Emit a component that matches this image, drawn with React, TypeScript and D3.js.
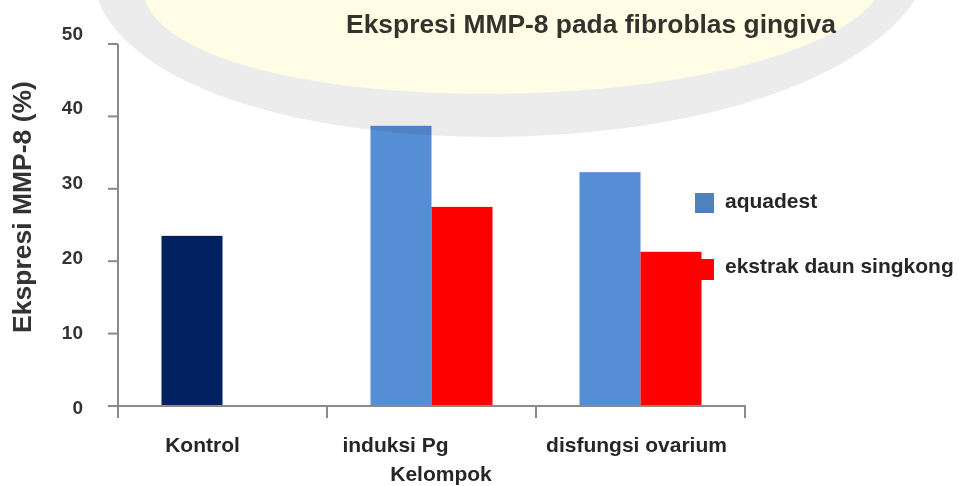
import React from "react";
import * as d3 from "d3";

// values
const categories = ["Kontrol", "induksi Pg", "disfungsi ovarium"];
const kontrolValues = [23.5, null, null];
const aquadestValues = [null, 38.7, 32.3];
const ekstrakValues = [null, 27.5, 21.3];
const yTicks = [0, 10, 20, 30, 40, 50];
const legendLabels = ["aquadest", "ekstrak daun singkong"];

const W = 959;
const H = 486;
const FONT = "'Liberation Sans', Arial, Helvetica, sans-serif";

// category labels in the picture sit a little left of the band centres
const labelShift = [-20, -36, -4];

const App: React.FC = () => {
  const x = d3.scaleBand<string>().domain(categories).range([118, 745]).padding(0);
  const slot = d3
    .scaleBand<string>()
    .domain(["a", "b"])
    .range([0, x.bandwidth()])
    .paddingInner(0)
    .paddingOuter(0.713);
  const y = d3.scaleLinear().domain([0, 50]).range([406, 44]);
  // tick labels are spread slightly wider than the ticks themselves
  const yLabel = d3.scaleLinear().domain([0, 50]).range([407, 33]);

  const bars: { cat: string; s: string; v: number; fill: string }[] = [];
  categories.forEach((c, i) => {
    if (kontrolValues[i] != null) bars.push({ cat: c, s: "a", v: kontrolValues[i] as number, fill: "#002060" });
    if (aquadestValues[i] != null) bars.push({ cat: c, s: "a", v: aquadestValues[i] as number, fill: "#558ed5" });
    if (ekstrakValues[i] != null) bars.push({ cat: c, s: "b", v: ekstrakValues[i] as number, fill: "#ff0000" });
  });

  const bounds = [...categories.map((c) => x(c) as number), 745];
  const axisColor = "#8a8a8a";

  return (
    <svg
      width={W}
      height={H}
      style={{ position: "absolute", left: 0, top: 0, background: "#fff" }}
      fontFamily={FONT}
    >
      <rect width={W} height={H} fill="#fff" />

      {/* bars */}
      {bars.map((b, i) => (
        <rect
          key={i}
          x={(x(b.cat) as number) + (slot(b.s) as number)}
          y={y(b.v)}
          width={slot.bandwidth()}
          height={y(0) - y(b.v)}
          fill={b.fill}
        />
      ))}

      {/* y axis */}
      <line x1={118} x2={118} y1={y(50)} y2={y(0)} stroke={axisColor} strokeWidth={2} />
      {yTicks.map((t) => (
        <g key={t}>
          <line x1={108} x2={118} y1={y(t)} y2={y(t)} stroke={axisColor} strokeWidth={2} />
          <text
            x={83}
            y={yLabel(t)}
            textAnchor="end"
            dominantBaseline="central"
            fontSize={19}
            fontWeight="bold"
            fill="#333"
          >
            {t}
          </text>
        </g>
      ))}

      {/* x axis */}
      <line x1={117} x2={746} y1={y(0)} y2={y(0)} stroke={axisColor} strokeWidth={2} />
      {bounds.map((bx, i) => (
        <line key={i} x1={bx} x2={bx} y1={y(0)} y2={y(0) + 12} stroke={axisColor} strokeWidth={2} />
      ))}
      {categories.map((c, i) => (
        <text
          key={c}
          x={(x(c) as number) + x.bandwidth() / 2 + labelShift[i]}
          y={452}
          textAnchor="middle"
          fontSize={21}
          fontWeight="bold"
          fill="#262626"
        >
          {c}
        </text>
      ))}
      <text x={441} y={481} textAnchor="middle" fontSize={21} fontWeight="bold" fill="#262626">
        Kelompok
      </text>

      {/* y title */}
      <text
        transform="translate(31,207) rotate(-90)"
        textAnchor="middle"
        fontSize={26.5}
        fontWeight="bold"
        fill="#333"
      >
        Ekspresi MMP-8 (%)
      </text>

      {/* legend */}
      <rect x={695} y={193} width={19} height={20} fill="#4f81bd" />
      <rect x={695} y={259} width={19} height={21} fill="#ff0000" />
      <text x={725} y={208} fontSize={21} fontWeight="bold" fill="#262626">
        {legendLabels[0]}
      </text>
      <text x={725} y={273} fontSize={21} fontWeight="bold" fill="#262626">
        {legendLabels[1]}
      </text>

      {/* title */}
      <text x={591} y={33} textAnchor="middle" fontSize={26.4} fontWeight="bold" fill="#333">
        Ekspresi MMP-8 pada fibroblas gingiva
      </text>

      {/* faint watermark over the top of the chart */}
      <g style={{ mixBlendMode: "multiply" }}>
        <path d="M145,0 C190,125 770,125 875,0 Z" fill="#fffde6" />
        <path
          d="M98,0 C170,180 790,185 915,0 L875,0 C770,125 190,125 145,0 Z"
          fill="#ececec"
        />
      </g>
    </svg>
  );
};

export default App;
